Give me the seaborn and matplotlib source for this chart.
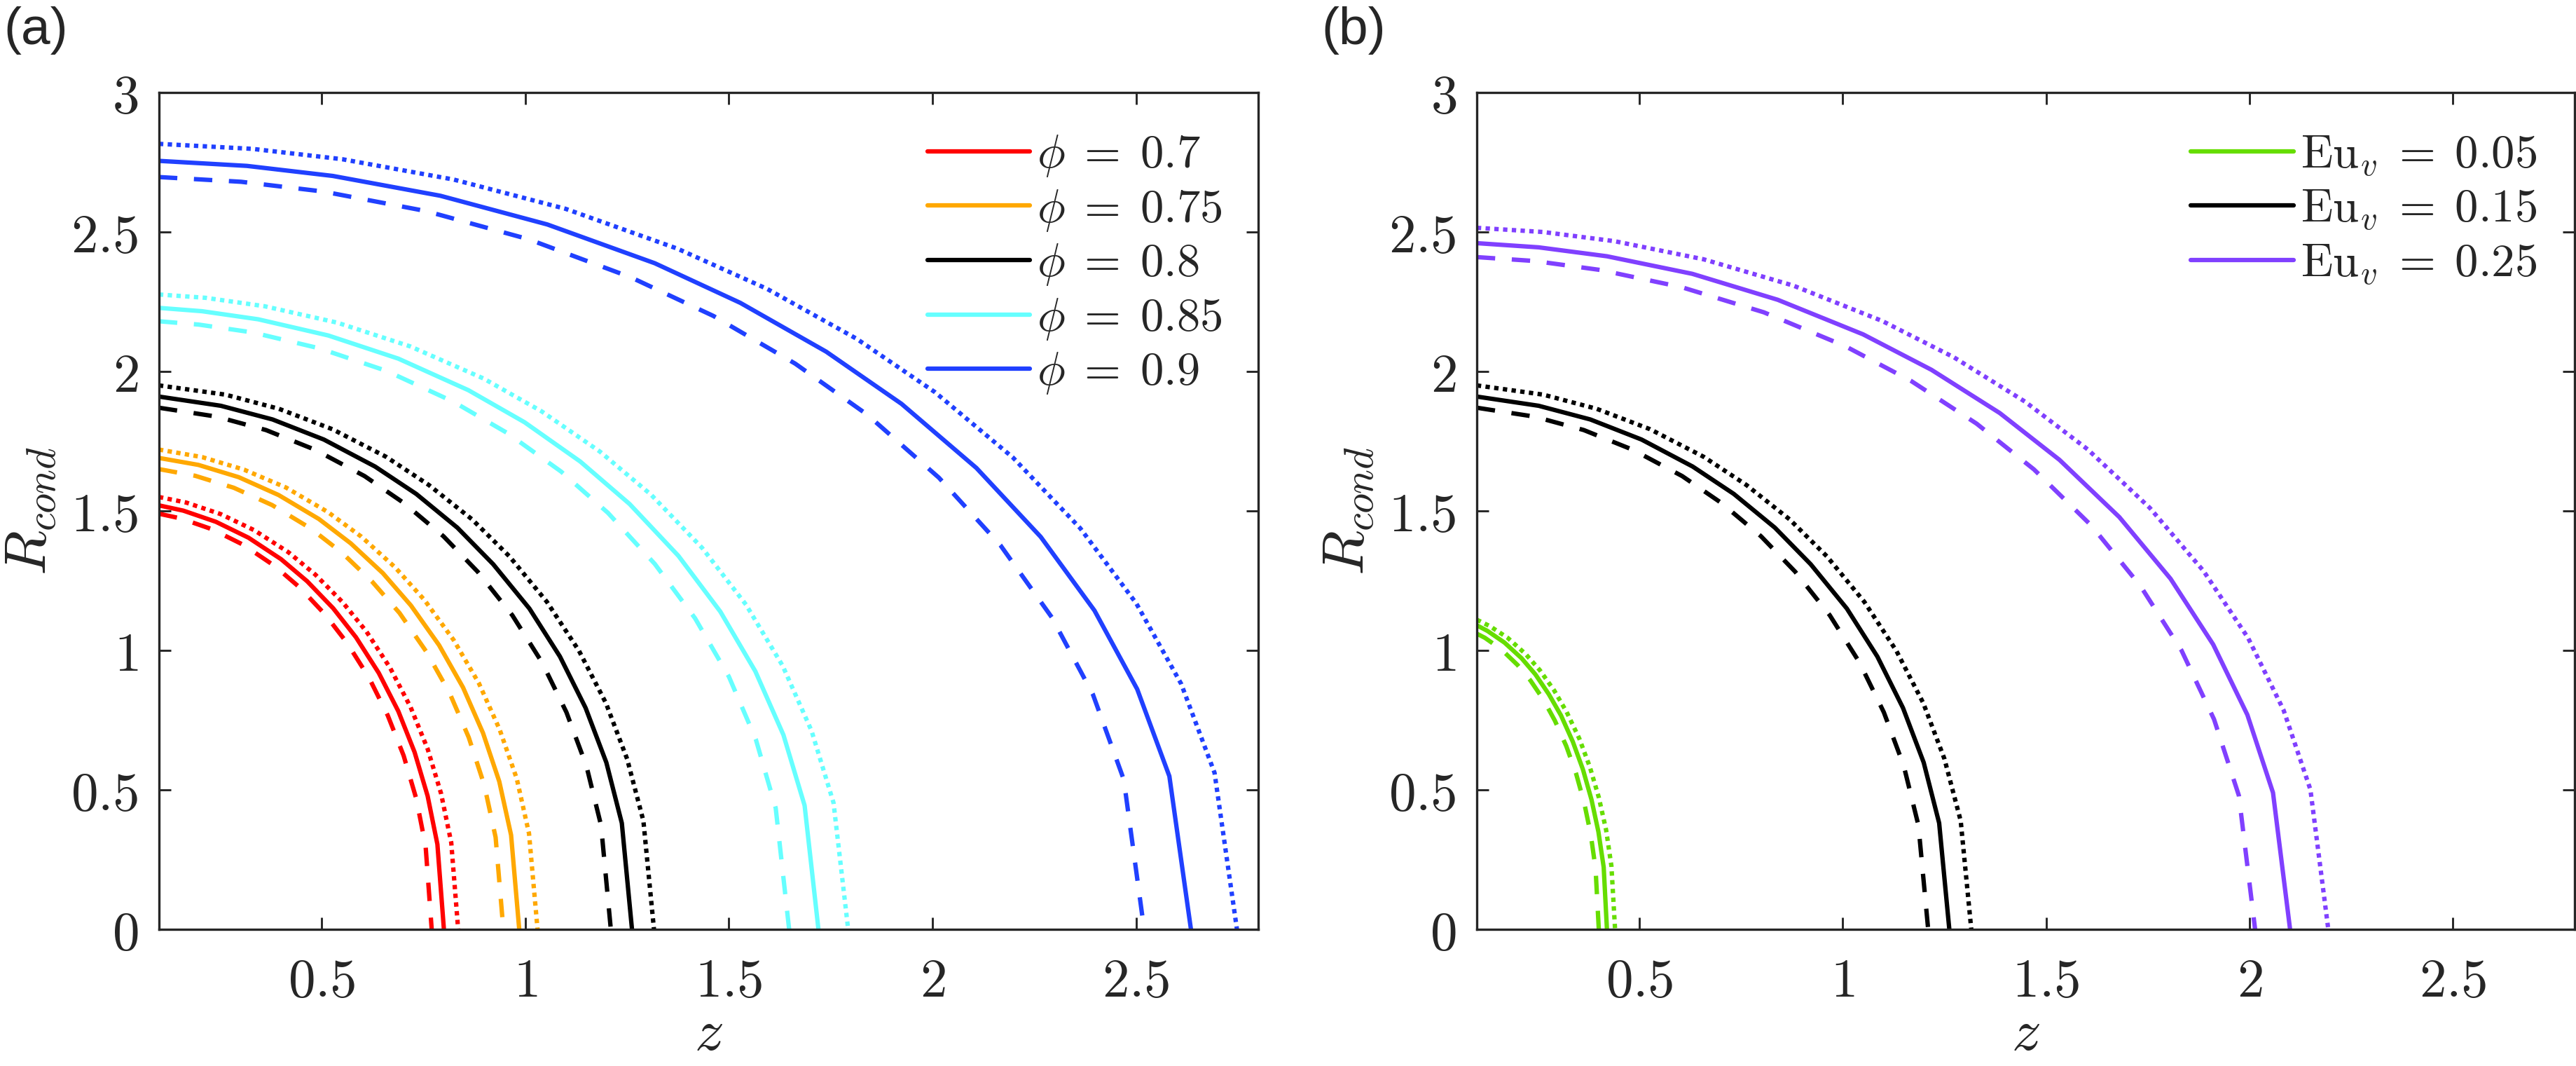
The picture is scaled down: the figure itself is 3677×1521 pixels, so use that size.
import matplotlib
matplotlib.use('Agg')
import matplotlib.pyplot as plt
import seaborn as sns

# Condensation front R_cond(z); each case has a dashed, a solid and a dotted curve
# (order inside every list: dashed, solid, dotted)

# ---- panel (a): volume fraction phi
red_z = [[0.1, 0.154, 0.231, 0.308, 0.385, 0.447, 0.508, 0.562, 0.616, 0.662, 0.701, 0.732, 0.755, 0.770],
         [0.1, 0.160, 0.240, 0.320, 0.400, 0.464, 0.528, 0.584, 0.640, 0.688, 0.728, 0.760, 0.784, 0.800],
         [0.1, 0.167, 0.251, 0.334, 0.418, 0.484, 0.551, 0.610, 0.668, 0.718, 0.760, 0.793, 0.818, 0.835]]
red_R = [[1.490, 1.473, 1.434, 1.378, 1.302, 1.224, 1.129, 1.027, 0.902, 0.767, 0.623, 0.469, 0.299, 0.0],
         [1.520, 1.501, 1.461, 1.404, 1.327, 1.248, 1.151, 1.047, 0.919, 0.782, 0.635, 0.478, 0.305, 0.0],
         [1.550, 1.530, 1.489, 1.431, 1.352, 1.272, 1.173, 1.067, 0.937, 0.797, 0.647, 0.487, 0.311, 0.0]]

orange_z = [[0.1, 0.189, 0.284, 0.378, 0.473, 0.549, 0.624, 0.691, 0.757, 0.814, 0.861, 0.899, 0.927, 0.946],
            [0.1, 0.197, 0.296, 0.394, 0.493, 0.571, 0.650, 0.719, 0.788, 0.847, 0.896, 0.936, 0.965, 0.985],
            [0.1, 0.206, 0.309, 0.412, 0.515, 0.597, 0.680, 0.752, 0.824, 0.886, 0.937, 0.979, 1.009, 1.030]]
orange_R = [[1.650, 1.626, 1.583, 1.521, 1.437, 1.351, 1.246, 1.134, 0.995, 0.847, 0.688, 0.518, 0.330, 0.0],
            [1.690, 1.665, 1.621, 1.557, 1.471, 1.384, 1.277, 1.161, 1.019, 0.867, 0.704, 0.530, 0.338, 0.0],
            [1.720, 1.693, 1.648, 1.584, 1.496, 1.408, 1.298, 1.181, 1.037, 0.882, 0.716, 0.540, 0.344, 0.0]]

black_z = [[0.1, 0.242, 0.363, 0.484, 0.605, 0.702, 0.799, 0.883, 0.968, 1.041, 1.101, 1.150, 1.186, 1.210],
           [0.1, 0.252, 0.379, 0.505, 0.631, 0.732, 0.833, 0.921, 1.010, 1.085, 1.148, 1.199, 1.237, 1.262],
           [0.1, 0.263, 0.395, 0.526, 0.658, 0.763, 0.869, 0.961, 1.053, 1.132, 1.198, 1.250, 1.290, 1.316]]
black_R = [[1.870, 1.838, 1.790, 1.719, 1.625, 1.528, 1.409, 1.282, 1.126, 0.957, 0.778, 0.586, 0.373, 0.0],
           [1.910, 1.877, 1.828, 1.756, 1.659, 1.561, 1.440, 1.309, 1.150, 0.978, 0.794, 0.598, 0.381, 0.0],
           [1.950, 1.917, 1.866, 1.793, 1.694, 1.593, 1.470, 1.337, 1.174, 0.998, 0.811, 0.611, 0.389, 0.0]]

cyan_z = [[0.1, 0.198, 0.330, 0.494, 0.659, 0.824, 0.956, 1.088, 1.203, 1.318, 1.417, 1.500, 1.566, 1.615, 1.648],
          [0.1, 0.206, 0.344, 0.516, 0.688, 0.860, 0.998, 1.135, 1.256, 1.376, 1.479, 1.565, 1.634, 1.686, 1.720],
          [0.1, 0.215, 0.359, 0.538, 0.717, 0.897, 1.040, 1.183, 1.309, 1.434, 1.542, 1.632, 1.703, 1.757, 1.793]]
cyan_R = [[2.180, 2.168, 2.140, 2.083, 2.002, 1.891, 1.779, 1.641, 1.493, 1.310, 1.115, 0.906, 0.682, 0.435, 0.0],
          [2.228, 2.216, 2.187, 2.129, 2.046, 1.933, 1.818, 1.677, 1.525, 1.339, 1.139, 0.925, 0.697, 0.444, 0.0],
          [2.276, 2.264, 2.234, 2.175, 2.090, 1.975, 1.857, 1.713, 1.558, 1.368, 1.164, 0.945, 0.712, 0.454, 0.0]]

blue_z = [[0.1, 0.302, 0.504, 0.756, 1.008, 1.260, 1.462, 1.663, 1.840, 2.016, 2.167, 2.293, 2.394, 2.470, 2.520],
          [0.1, 0.316, 0.527, 0.791, 1.054, 1.318, 1.528, 1.739, 1.924, 2.108, 2.266, 2.398, 2.503, 2.582, 2.635],
          [0.1, 0.330, 0.550, 0.824, 1.099, 1.374, 1.594, 1.814, 2.006, 2.198, 2.363, 2.501, 2.611, 2.693, 2.748]]
blue_R = [[2.697, 2.680, 2.645, 2.575, 2.474, 2.337, 2.199, 2.028, 1.845, 1.619, 1.377, 1.119, 0.843, 0.537, 0.0],
          [2.755, 2.737, 2.701, 2.630, 2.527, 2.388, 2.246, 2.071, 1.884, 1.654, 1.407, 1.143, 0.861, 0.549, 0.0],
          [2.816, 2.798, 2.761, 2.688, 2.583, 2.440, 2.296, 2.117, 1.926, 1.691, 1.438, 1.168, 0.880, 0.561, 0.0]]

# ---- panel (b): Euler number Eu_v (black curves are the same case as phi = 0.8)
green_z = [[0.1, 0.120, 0.160, 0.200, 0.232, 0.264, 0.292, 0.320, 0.344, 0.364, 0.380, 0.392, 0.400],
           [0.1, 0.126, 0.168, 0.210, 0.244, 0.277, 0.307, 0.336, 0.361, 0.382, 0.399, 0.412, 0.420],
           [0.1, 0.132, 0.176, 0.220, 0.255, 0.290, 0.321, 0.352, 0.378, 0.400, 0.418, 0.431, 0.440]]
green_R = [[1.060, 1.045, 1.004, 0.948, 0.892, 0.823, 0.748, 0.657, 0.559, 0.454, 0.342, 0.218, 0.0],
           [1.090, 1.070, 1.028, 0.972, 0.914, 0.843, 0.767, 0.673, 0.573, 0.465, 0.350, 0.223, 0.0],
           [1.110, 1.087, 1.045, 0.987, 0.929, 0.857, 0.779, 0.684, 0.582, 0.473, 0.356, 0.227, 0.0]]

purple_z = [[0.1, 0.242, 0.403, 0.604, 0.806, 1.007, 1.168, 1.329, 1.470, 1.611, 1.732, 1.833, 1.913, 1.974, 2.014],
            [0.1, 0.252, 0.420, 0.630, 0.840, 1.050, 1.218, 1.386, 1.533, 1.680, 1.806, 1.911, 1.995, 2.058, 2.100],
            [0.1, 0.263, 0.439, 0.658, 0.878, 1.097, 1.273, 1.448, 1.602, 1.755, 1.887, 1.997, 2.084, 2.150, 2.194]]
purple_R = [[2.410, 2.396, 2.364, 2.302, 2.212, 2.090, 1.966, 1.813, 1.649, 1.448, 1.231, 1.000, 0.753, 0.480, 0.0],
            [2.460, 2.445, 2.413, 2.350, 2.257, 2.133, 2.006, 1.851, 1.683, 1.478, 1.257, 1.021, 0.769, 0.490, 0.0],
            [2.515, 2.500, 2.467, 2.402, 2.308, 2.181, 2.051, 1.892, 1.721, 1.511, 1.285, 1.044, 0.786, 0.501, 0.0]]

phi_labels = [r'$\phi\;=\;0.7$', r'$\phi\;=\;0.75$', r'$\phi\;=\;0.8$', r'$\phi\;=\;0.85$', r'$\phi\;=\;0.9$']
eu_labels = [r'$\mathrm{Eu}_v\;=\;0.05$', r'$\mathrm{Eu}_v\;=\;0.15$', r'$\mathrm{Eu}_v\;=\;0.25$']

xticks = [0.5, 1, 1.5, 2, 2.5]
yticks = [0, 0.5, 1, 1.5, 2, 2.5, 3]

sns.set_style('ticks')
plt.rcParams['mathtext.fontset'] = 'cm'
plt.rcParams['font.family'] = ['DejaVu Serif']
plt.rcParams['xtick.direction'] = 'in'
plt.rcParams['ytick.direction'] = 'in'

W, H, DPI = 3677, 1521, 300
lw = 1.5
line_styles = [(0, (4.2, 3.8)), '-', (0, (1.0, 1.0))]
leg_fs = 16

fig = plt.figure(figsize=(W / DPI, H / DPI), dpi=DPI)
ax_a = fig.add_axes([0.0617, 0.1282, 0.4267, 0.785])
ax_b = fig.add_axes([0.5733, 0.1282, 0.4262, 0.785])


def fit_legend(ax, handles, labels, row1_px, pitch_px, right_px):
    # place the legend so its first row, row pitch and right text edge sit
    # where they are in the reference (pixel positions from the top-left)
    ls, ax_px, ay_px = 0.25, right_px + 5, row1_px - 30
    fs_px = leg_fs * DPI / 72
    for _ in range(3):
        leg = ax.legend(handles, labels, loc='upper right',
                        bbox_to_anchor=(ax_px / W, 1 - ay_px / H),
                        bbox_transform=fig.transFigure, frameon=False,
                        fontsize=leg_fs, handlelength=2.2, handletextpad=0.15,
                        labelspacing=ls, borderaxespad=0.0, borderpad=0.0)
        fig.canvas.draw()
        rend = fig.canvas.get_renderer()
        ys = [H - 0.5 * (l.get_window_extent(rend).y0 + l.get_window_extent(rend).y1)
              for l in leg.get_lines()]
        xr = max(t.get_window_extent(rend).x1 for t in leg.get_texts())
        pitch = (ys[-1] - ys[0]) / (len(ys) - 1)
        ls += (pitch_px - pitch) / fs_px
        ay_px += row1_px - ys[0]
        ax_px += right_px - xr
    return leg


panels = [
    (ax_a, [red_z, orange_z, black_z, cyan_z, blue_z],
     [red_R, orange_R, black_R, cyan_R, blue_R],
     ['#FF0000', '#FFA800', '#000000', '#66FFFF', '#2040FF'], phi_labels, 1745),
    (ax_b, [green_z, black_z, purple_z],
     [green_R, black_R, purple_R],
     ['#66DD00', '#000000', '#8040FF'], eu_labels, 3621),
]

for ax, zs, Rs, colors, labels, text_right in panels:
    handles = []
    for z_set, R_set, col in zip(zs, Rs, colors):
        for k in range(3):
            sns.lineplot(x=z_set[k], y=R_set[k], ax=ax, color=col,
                         linestyle=line_styles[k], lw=lw, sort=False,
                         estimator=None, legend=False)
            if k == 1:
                handles.append(ax.lines[-1])

    ax.set_xlim(0.1, 2.8)
    ax.set_ylim(0, 3)
    ax.set_xticks(xticks)
    ax.set_xticklabels([f'${t:g}$' for t in xticks], fontsize=18.5)
    ax.set_yticks(yticks)
    ax.set_yticklabels([f'${t:g}$' for t in yticks], fontsize=18.5)
    ax.tick_params(top=True, right=True, length=4, width=0.7, color='#262626')
    ax.tick_params(axis='y', pad=7)
    ax.tick_params(axis='x', pad=9)
    for sp in ax.spines.values():
        sp.set_linewidth(0.8)
        sp.set_color('#262626')
    ax.set_xlabel(r'$z$', fontsize=20)
    ax.set_ylabel(r'$R_{cond}$', fontsize=20)
    ax.xaxis.label.set_va('baseline')
    ax.yaxis.label.set_va('baseline')
    ax.xaxis.set_label_coords(0.5, -0.144)
    ax.yaxis.set_label_coords(-0.1026, 0.5)

    fit_legend(ax, handles, labels, 216, 77.5, text_right)

fig.text(0.0015, 0.994, '(a)', fontsize=18, family='Liberation Sans', va='top', ha='left')
fig.text(0.513, 0.994, '(b)', fontsize=18, family='Liberation Sans', va='top', ha='left')

fig.savefig('out.png', dpi=DPI)
